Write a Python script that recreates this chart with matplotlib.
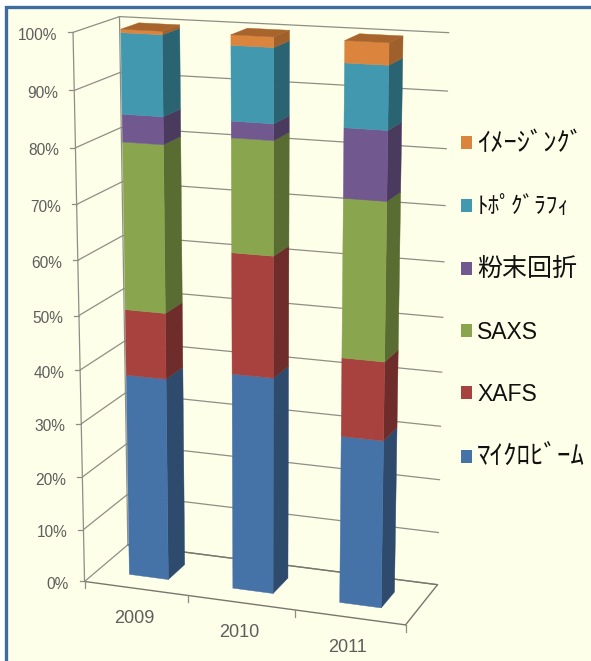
import numpy as np
import matplotlib
matplotlib.use("Agg")
import matplotlib.pyplot as plt
from matplotlib.patches import Polygon, Rectangle, Patch

plt.rcParams['font.family'] = ['Liberation Sans', 'Noto Sans CJK JP', 'DejaVu Sans']

years = ['2009', '2010', '2011']
legend_labels = ['ﾏｲｸﾛﾋﾞｰﾑ', 'XAFS', 'SAXS', '粉末回折', 'ﾄﾎﾟｸﾞﾗﾌｨ', 'ｲﾒｰｼﾞﾝｸﾞ']
microbeam = [38.0, 40.2, 30.9]
xafs = [12.1, 21.9, 14.2]
saxs = [30.2, 20.2, 28.1]
powder = [4.9, 2.9, 12.1]
topography = [14.2, 13.0, 10.95]
imaging = [0.6, 1.8, 3.75]
ticks = [0, 10, 20, 30, 40, 50, 60, 70, 80, 90, 100]
front_colors = ['#4572A7', '#A8423F', '#89A54E', '#71588F', '#4198AF', '#DB843D']
side_colors = ['#2E4B6E', '#6E2C2A', '#596D33', '#4A3A5E', '#2A6473', '#A0602B']
top_color = '#A8642D'
legend_sizes = [19.4, 16.5, 16.5, 18, 16.8, 19]

# Camera: world (category, depth, percent) -> image position
cal_world = np.array([[0, 0, 0], [3, 0, 0], [0, 1, 0], [3, 1, 0], [0, 0, 100], [0, 1, 100], [3, 1, 100],
                      [2.31, .3, 100], [2.69, .3, 100], [2.31, .3, 0], [2.69, .3, 0],
                      [.31, .3, 0], [.69, .3, 0], [.31, .3, 100], [.69, .3, 100]], float)
cal_img = np.array([[85, 582], [406, 625], [128, 545], [437, 585], [73, 31], [120, 15.5], [449, 33],
                    [343, 40], [390, 42], [339, 603], [382, 607],
                    [128, 574], [169, 579], [120, 29], [163, 35]], float)
rows = []
for (X, Z, Y), (u, v) in zip(cal_world, cal_img):
    Y = Y / 100
    rows.append([X, Z, Y, 1, 0, 0, 0, 0, -u * X, -u * Z, -u * Y, -u])
    rows.append([0, 0, 0, 0, X, Z, Y, 1, -v * X, -v * Z, -v * Y, -v])
P = np.linalg.svd(np.array(rows))[2][-1].reshape(3, 4)


def project(x, d, val):
    h = P @ np.array([x, d, val / 100, 1.0])
    return h[0] / h[2], h[1] / h[2]


fig = plt.figure(figsize=(5.91, 6.61), dpi=100, facecolor='white')
ax = fig.add_axes([0, 0, 1, 1])
ax.set_xlim(0, 591)
ax.set_ylim(661, 0)
ax.axis('off')
ax.add_patch(Rectangle((6, 7), 800, 800, fc='#FEFFE8', ec='#3F6C9E', lw=2.4, zorder=0))

GRID = '#8E8E86'


def seg(a, b, lw=0.9, color=GRID, z=1):
    p, q = project(*a), project(*b)
    ax.plot([p[0], q[0]], [p[1], q[1]], color=color, lw=lw, zorder=z, solid_capstyle='round')


n = len(years)
for t in ticks:
    seg((0, 0, t), (0, 1, t))
    seg((0, 1, t), (n, 1, t))
    p = project(0, 0, t)
    ax.plot([p[0] - 5, p[0]], [p[1], p[1]], color=GRID, lw=0.9, zorder=1)
    ax.text(p[0] - 16, p[1] + 3, f'{t}%', ha='right', va='center', fontsize=11.2, color='#5E5E5E', zorder=5)
seg((0, 0, 0), (0, 0, 100))
seg((0, 1, 0), (0, 1, 100))
seg((0, 0, 0), (n, 0, 0), lw=1.0, color='#77776F')
seg((n, 0, 0), (n, 1, 0), lw=1.0, color='#77776F')
seg((0, 1, 0), (n, 1, 0), lw=1.0, color='#77776F')
for i in range(n + 1):
    p = project(i, 0, 0)
    ax.plot([p[0], p[0]], [p[1], p[1] + 7], color=GRID, lw=0.9, zorder=1)
for i, y in enumerate(years):
    p = project(i + .5, 0, 0)
    ax.text(p[0] - 2, p[1] + 30, y, ha='center', va='center', fontsize=13, color='#5E5E5E', zorder=5)

stack = np.array([microbeam, xafs, saxs, powder, topography, imaging])
bottoms = np.vstack([np.zeros(n), np.cumsum(stack, axis=0)[:-1]])
X0, X1, D0, D1 = .31, .69, .3, .7
for i in range(n):
    xl, xr = i + X0, i + X1
    for s in range(len(legend_labels)):
        b, t = bottoms[s, i], bottoms[s, i] + stack[s, i]
        ax.add_patch(Polygon([project(xr, D0, b), project(xr, D1, b), project(xr, D1, t), project(xr, D0, t)],
                             closed=True, fc=side_colors[s], ec=side_colors[s], lw=0.3, zorder=2))
        ax.add_patch(Polygon([project(xl, D0, b), project(xr, D0, b), project(xr, D0, t), project(xl, D0, t)],
                             closed=True, fc=front_colors[s], ec=front_colors[s], lw=0.3, zorder=3))
    top = bottoms[-1, i] + stack[-1, i]
    ax.add_patch(Polygon([project(xl, D0, top), project(xr, D0, top), project(xr, D1, top), project(xl, D1, top)],
                         closed=True, fc=top_color, ec=top_color, lw=0.3, zorder=3))

handles = [Patch(fc=c, ec='none') for c in front_colors[::-1]]
leg = ax.legend(handles, legend_labels[::-1], loc='upper left', bbox_to_anchor=(461 / 591, 1 - 132 / 661),
                frameon=False, fontsize=16.5, handlelength=0.5, handleheight=0.5, handletextpad=0.2,
                labelspacing=1.71, borderpad=0, borderaxespad=0, labelcolor='#111111')
for txt, size in zip(leg.get_texts(), legend_sizes[::-1]):
    txt.set_fontsize(size)

fig.savefig('out.png', dpi=100, facecolor='white')
